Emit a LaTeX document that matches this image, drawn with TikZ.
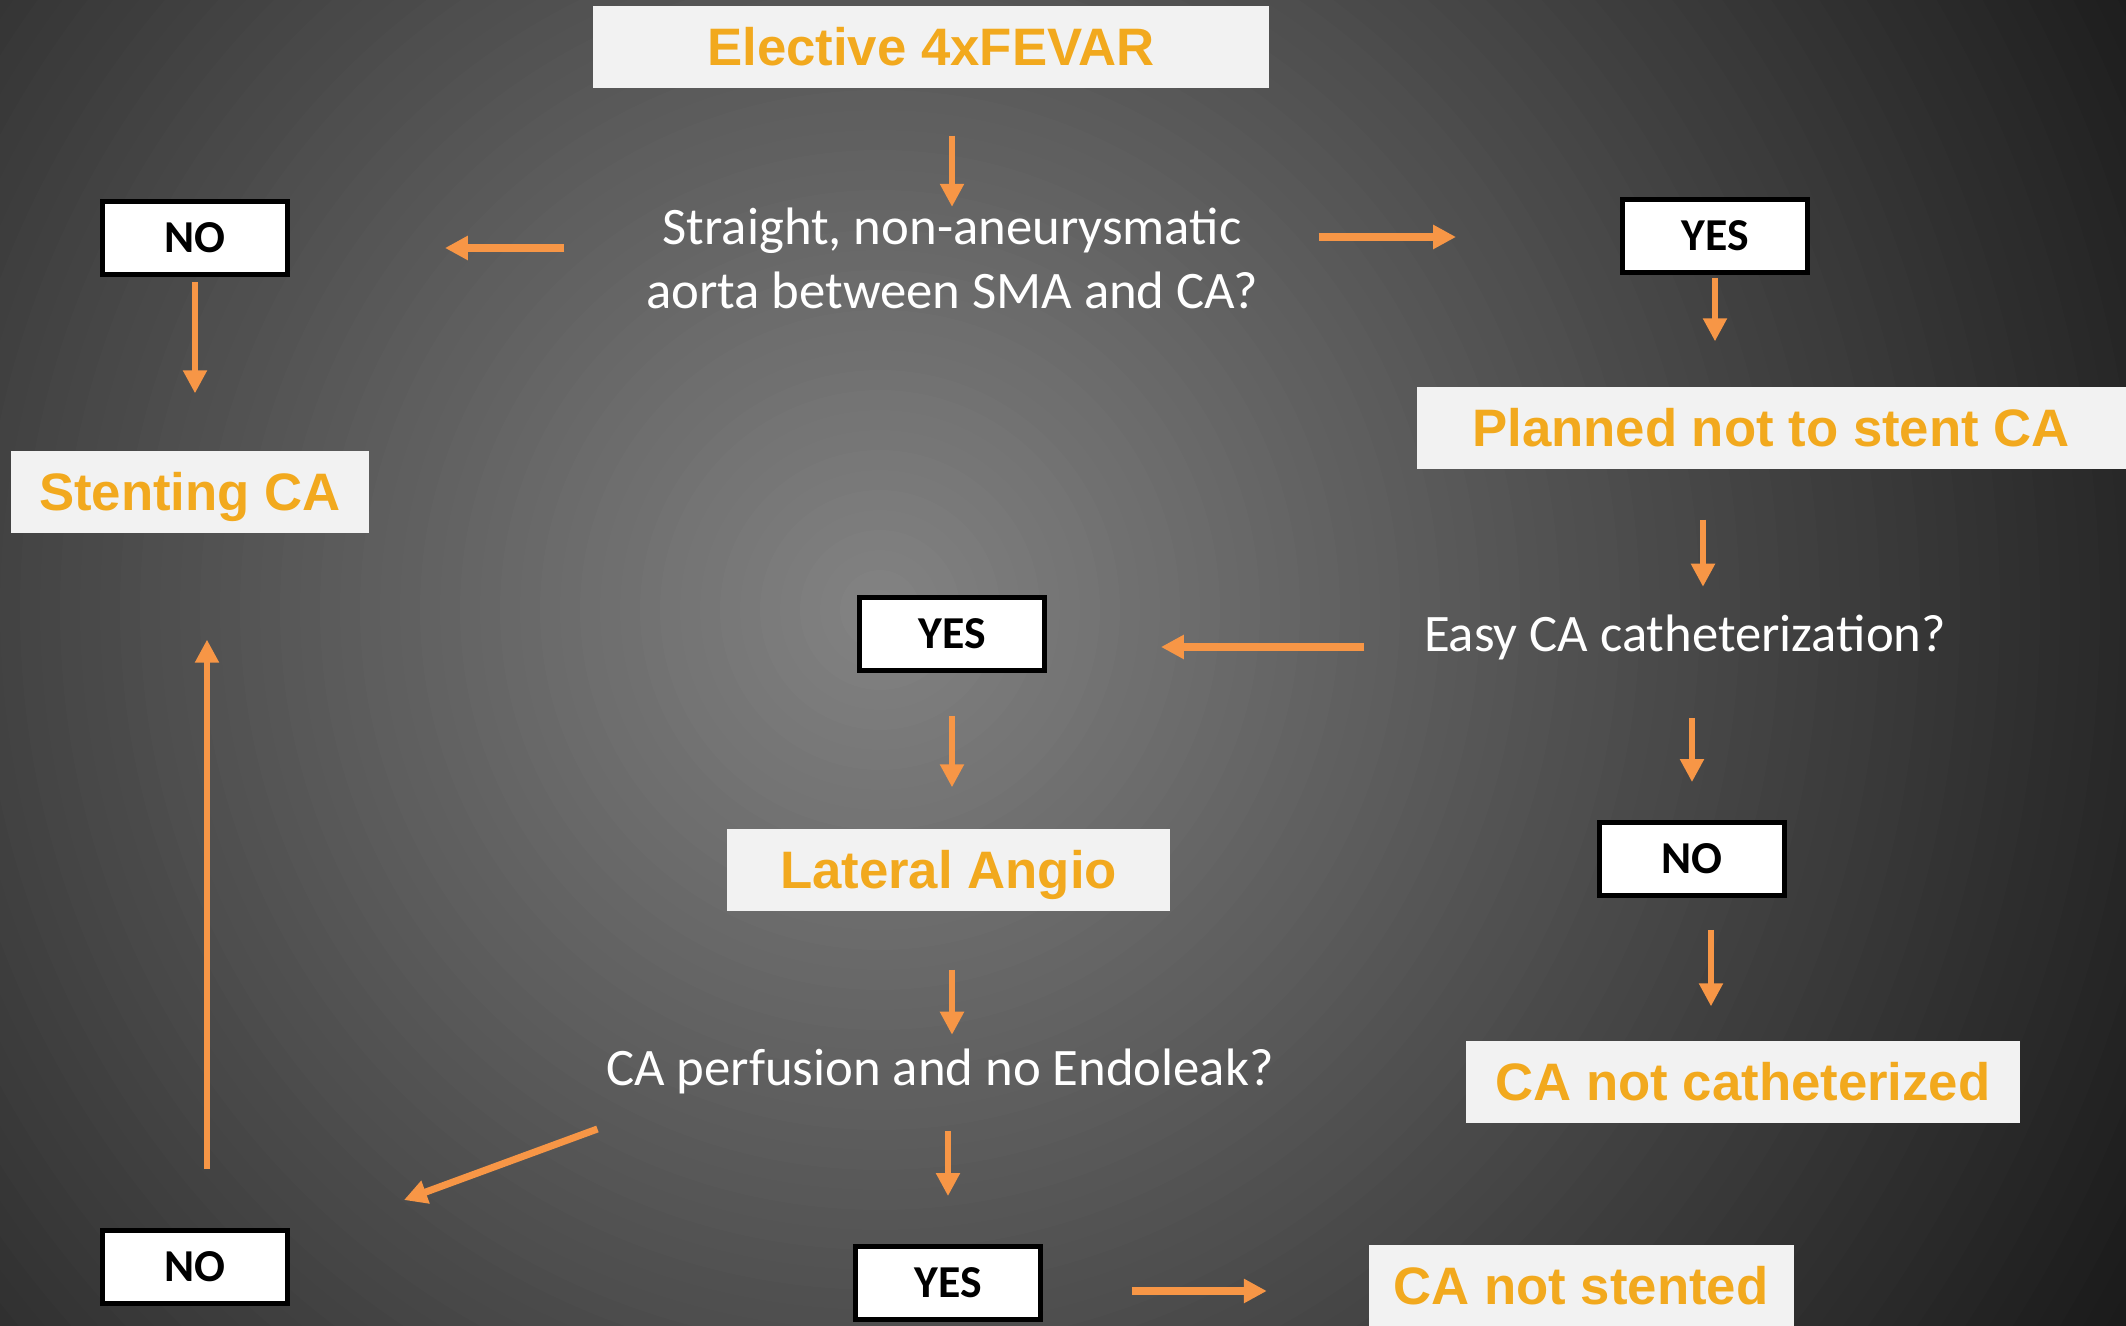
\documentclass[tikz,border=0pt]{standalone}
\usepackage{fontspec}
\setmainfont{Carlito}
\newfontfamily\arialfont{Liberation Sans}
\usetikzlibrary{arrows.meta}
\definecolor{bgin}{HTML}{828282}
\definecolor{bgout}{HTML}{191919}
\definecolor{boxgray}{HTML}{F2F2F2}
\definecolor{ortext}{HTML}{F2A91E}
\definecolor{orarrow}{HTML}{F79646}
\begin{document}
\begin{tikzpicture}[
  result/.style={fill=boxgray, text=ortext, font=\arialfont\bfseries\fontsize{15}{18}\selectfont, minimum height=0.82cm, inner sep=0pt, text height=10.7pt, text depth=0pt},
  answer/.style={draw=black, line width=1.4pt, fill=white, minimum width=1.85cm, minimum height=0.73cm, inner sep=0pt, font=\bfseries\fontsize{13}{15}\selectfont},
  question/.style={text=white, align=center, font=\fontsize{15}{18.2}\selectfont, inner sep=0pt},
  flow/.style={draw=orarrow, line width=1.5pt, -{Triangle[length=2.3mm,width=2.3mm]}},
  flowthick/.style={flow, line width=2pt}
]
\useasboundingbox (0,0) rectangle (21.26,-13.26);
\begin{scope}
\clip (0,0) rectangle (21.26,-13.26);
\foreach \k in {0,...,72} {
  \pgfmathsetmacro\rad{14.6*(1-\k/73)}
  \pgfmathsetmacro\pct{100*\k/72}
  \fill[bgin!\pct!bgout] (8.8,-6.1) circle (\rad);
}
\end{scope}

\node[result, minimum width=6.76cm] (start) at (9.31,-0.47) {Elective 4xFEVAR};
\node[question] (q1) at (9.52,-2.58) {Straight, non-aneurysmatic\\aorta between SMA and CA?};
\node[answer] (no1) at (1.95,-2.38) {NO};
\node[result, minimum width=3.58cm] (stent) at (1.90,-4.92) {Stenting CA};
\node[answer] (yes1) at (17.15,-2.36) {YES};
\node[result, minimum width=7.09cm] (planned) at (17.71,-4.28) {Planned not to stent CA};
\node[question] (q2) at (16.85,-6.37) {Easy CA catheterization?};
\node[answer] (yes2) at (9.52,-6.34) {YES};
\node[result, minimum width=4.43cm] (angio) at (9.485,-8.70) {Lateral Angio};
\node[question] (q3) at (9.40,-10.71) {CA perfusion and no Endoleak?};
\node[answer] (yes3) at (9.48,-12.83) {YES};
\node[result, minimum width=4.25cm] (notstent) at (15.81,-12.86) {CA not stented};
\node[answer] (no3) at (1.95,-12.67) {NO};
\node[answer] (no2) at (16.92,-8.59) {NO};
\node[result, minimum width=5.54cm] (notcath) at (17.43,-10.82) {CA not catheterized};

\draw[flow, shorten <=4.7mm] (start.south -| q1.north) -- (q1.north);
\draw[flowthick, shorten <=8.1mm, shorten >=15.5mm] ([yshift=1mm]q1.west) -- ([yshift=1mm]q1.west -| no1.east);
\draw[flow, shorten <=0.5mm, shorten >=5.7mm] (no1.south) -- (stent.north -| no1.south);
\draw[flowthick, shorten <=6mm, shorten >=16.4mm] ([yshift=2.1mm]q1.east) -- ([yshift=2.1mm]q1.east -| yes1.west);
\draw[flow, shorten <=0.3mm, shorten >=4.5mm] (yes1.south) -- (yes1.south |- planned.north);
\draw[flow, shorten <=5mm, shorten >=2.7mm] ([xshift=-6.8mm]planned.south) -- ([xshift=-6.8mm]planned.south |- q2.north);
\draw[flowthick, shorten <=5.9mm, shorten >=11.4mm] ([yshift=-1mm]q2.west) -- ([yshift=-1mm]q2.west -| yes2.east);
\draw[flow, shorten <=4.3mm, shorten >=4.1mm] (yes2.south) -- (angio.north -| yes2.south);
\draw[flow, shorten <=5.8mm, shorten >=1.3mm] (angio.south -| yes2.south) -- (yes2.south |- q3.north);
\draw[flow, shorten <=3.7mm, shorten >=4.8mm] (q3.south -| yes3.north) -- (yes3.north);
\draw[flowthick, shorten <=8.9mm, shorten >=10.1mm] ([yshift=-0.8mm]yes3.east) -- ([yshift=-0.8mm]yes3.east -| notstent.west);
\draw[flowthick] ([shift={(-0.08,-0.58)}]q3.west) -- ([shift={(1.14,0.28)}]no3.north east);
\draw[flow, shorten <=5.9mm, shorten >=10.6mm] ([xshift=1.2mm]no3.north) -- ([xshift=1.2mm]no3.north |- stent.south);
\draw[flow, shorten <=5.8mm, shorten >=3.8mm] (q2.south -| no2.north) -- (no2.north);
\draw[flow, shorten <=3.2mm, shorten >=3.4mm] ([xshift=1.9mm]no2.south) -- ([xshift=1.9mm]no2.south |- notcath.north);
\end{tikzpicture}
\end{document}
